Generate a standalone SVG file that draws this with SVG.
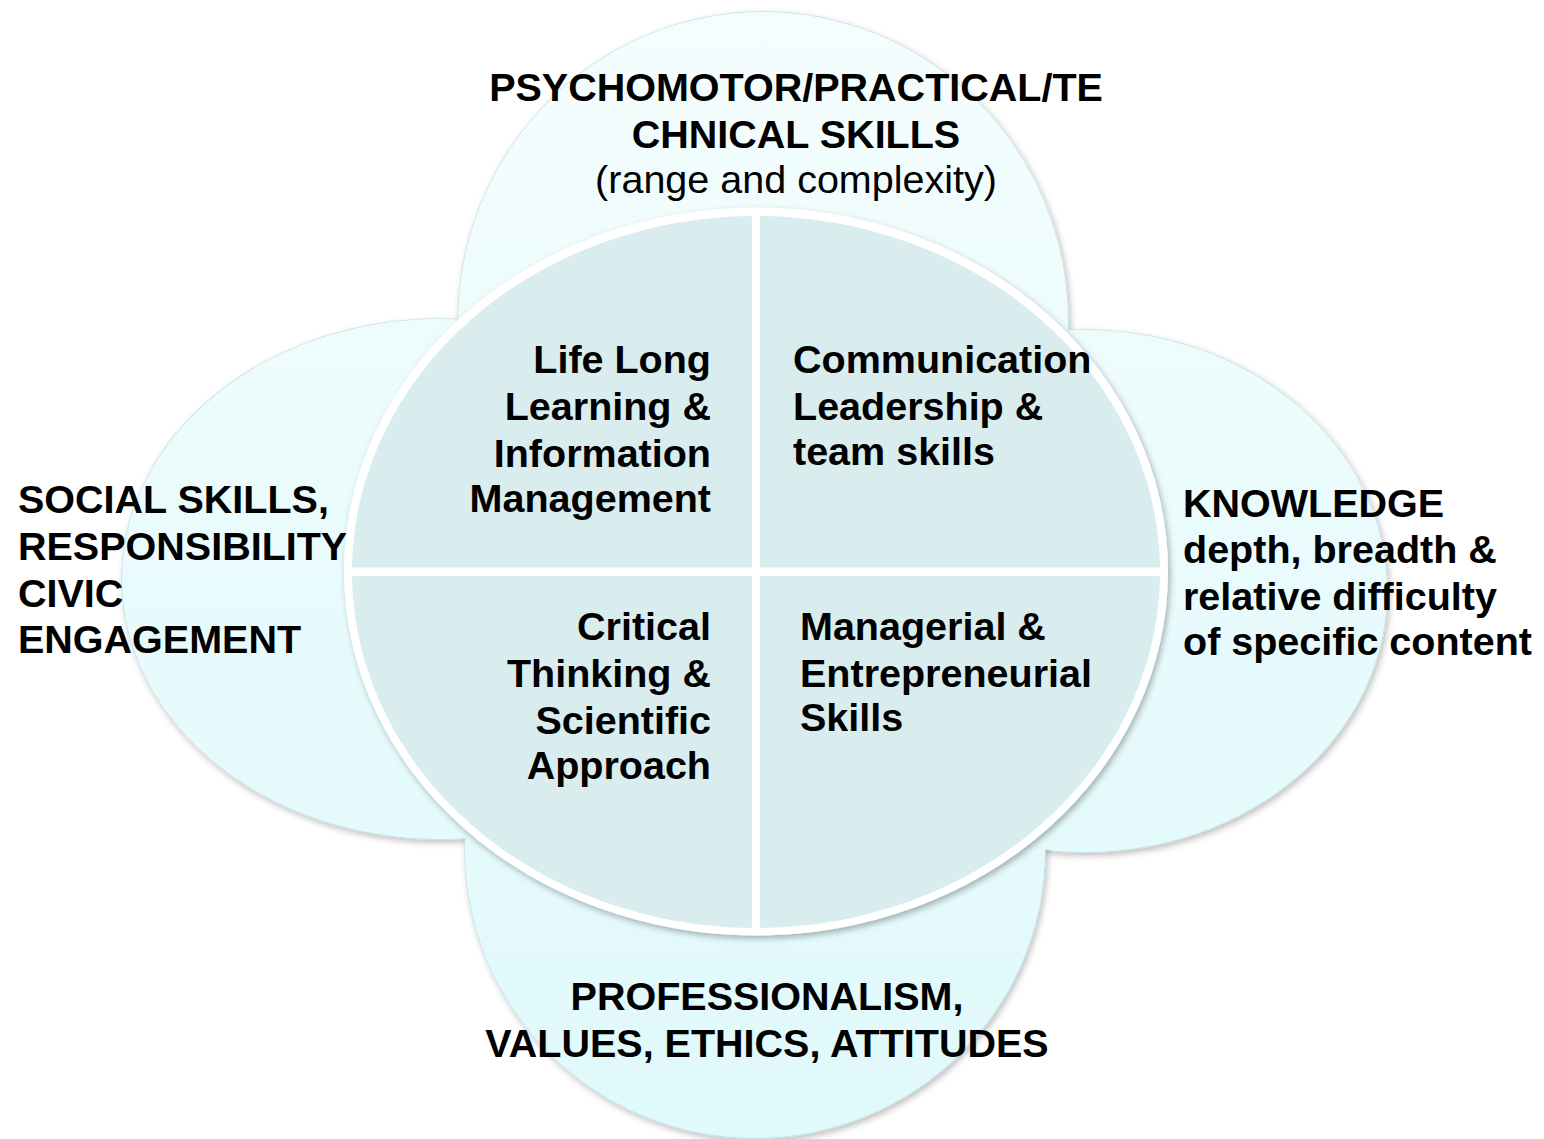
<svg xmlns="http://www.w3.org/2000/svg" width="1544" height="1139" viewBox="0 0 1544 1139">
<defs>
  <linearGradient id="petalFill" gradientUnits="userSpaceOnUse" x1="0" y1="0" x2="0" y2="1139">
    <stop offset="0" stop-color="#F5FDFD"/>
    <stop offset="0.5" stop-color="#E9FBFC"/>
    <stop offset="1" stop-color="#E0F9FB"/>
  </linearGradient>
  <filter id="shadow" x="-10%" y="-10%" width="120%" height="120%">
    <feDropShadow dx="2" dy="3" stdDeviation="3" flood-color="#000" flood-opacity="0.25"/>
  </filter>
  <filter id="ringShadow" x="-10%" y="-10%" width="120%" height="120%">
    <feDropShadow dx="2" dy="3" stdDeviation="3" flood-color="#000" flood-opacity="0.3"/>
  </filter>
</defs>
<style>
  .petal-edge { fill: url(#petalFill); stroke: #C4E2E5; stroke-width: 1.5; filter: url(#shadow); }
  .petal { fill: url(#petalFill); stroke: none; }
  .ring { fill: #FFFFFF; filter: url(#ringShadow); }
  .quad { fill: #D9ECEE; }
  text { font-family: "Liberation Sans", Arial, sans-serif; font-size: 39.5px; font-weight: bold; fill: #000; }
  .normal { font-weight: normal; }
  .mid { text-anchor: middle; }
  .end { text-anchor: end; }
</style>
<rect width="1544" height="1139" fill="#FFFFFF"/>

<g id="petal-outlines">
  <ellipse class="petal-edge" cx="763" cy="322" rx="305" ry="310"/>
  <ellipse class="petal-edge" cx="440" cy="579" rx="318" ry="260"/>
  <ellipse class="petal-edge" cx="1085" cy="591" rx="302" ry="261"/>
  <ellipse class="petal-edge" cx="755" cy="850" rx="290" ry="288"/>
</g>

<g id="node-psychomotor">
  <ellipse class="petal" cx="763" cy="322" rx="305" ry="310"/>
</g>
<g id="node-social">
  <ellipse class="petal" cx="440" cy="579" rx="318" ry="260"/>
</g>
<g id="node-knowledge">
  <ellipse class="petal" cx="1085" cy="591" rx="302" ry="261"/>
</g>
<g id="node-professionalism">
  <ellipse class="petal" cx="755" cy="850" rx="290" ry="288"/>
</g>

<g id="labels-outer">
  <text class="mid" x="796" y="101">PSYCHOMOTOR/PRACTICAL/TE</text>
  <text class="mid" x="796" y="148">CHNICAL SKILLS</text>
  <text class="mid normal" x="796" y="193">(range and complexity)</text>
  <text x="18" y="513">SOCIAL SKILLS,</text>
  <text x="18" y="560">RESPONSIBILITY</text>
  <text x="18" y="607">CIVIC</text>
  <text x="18" y="653">ENGAGEMENT</text>
  <text x="1183" y="517">KNOWLEDGE</text>
  <text x="1183" y="563">depth, breadth &amp;</text>
  <text x="1183" y="610">relative difficulty</text>
  <text x="1183" y="655">of specific content</text>
  <text class="mid" x="767" y="1010">PROFESSIONALISM,</text>
  <text class="mid" x="767" y="1057">VALUES, ETHICS, ATTITUDES</text>
</g>

<g id="node-center">
  <ellipse class="ring" cx="756" cy="571.5" rx="412" ry="364"/>
</g>

<g id="node-lifelong">
  <path class="quad" d="M752,567.5 L352,567.5 A404,356 0 0 1 752,216 Z"/>
  <text class="end" x="711" y="373">Life Long</text>
  <text class="end" x="711" y="420">Learning &amp;</text>
  <text class="end" x="711" y="467">Information</text>
  <text class="end" x="711" y="512">Management</text>
</g>
<g id="node-communication">
  <path class="quad" d="M760,567.5 L760,216 A404,356 0 0 1 1160,567.5 Z"/>
  <text x="793" y="373">Communication</text>
  <text x="793" y="420">Leadership &amp;</text>
  <text x="793" y="465">team skills</text>
</g>
<g id="node-critical">
  <path class="quad" d="M752,576 L752,928 A404,356 0 0 1 352,576 Z"/>
  <text class="end" x="711" y="640">Critical</text>
  <text class="end" x="711" y="687">Thinking &amp;</text>
  <text class="end" x="711" y="734">Scientific</text>
  <text class="end" x="711" y="779">Approach</text>
</g>
<g id="node-managerial">
  <path class="quad" d="M760,576 L1160,576 A404,356 0 0 1 760,928 Z"/>
  <text x="800" y="640">Managerial &amp;</text>
  <text x="800" y="687">Entrepreneurial</text>
  <text x="800" y="731">Skills</text>
</g>

<g id="connectors"></g>
</svg>
